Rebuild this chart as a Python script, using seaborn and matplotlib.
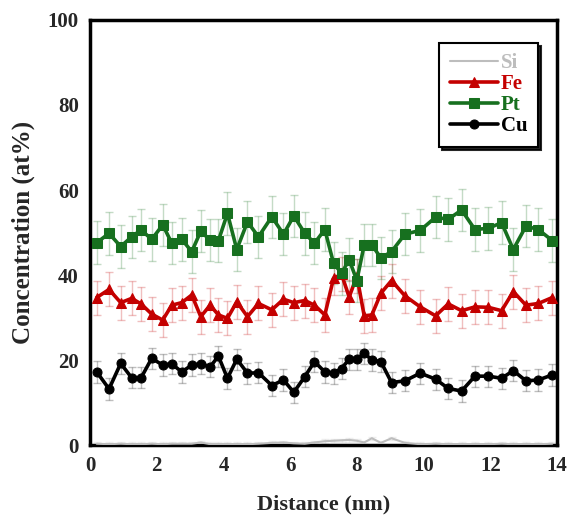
import matplotlib
matplotlib.use("Agg")
import matplotlib.pyplot as plt
import seaborn as sns
import pandas as pd
import numpy as np

# measurement positions (nm), shared by all four elements
distance = [0.2, 0.57, 0.92, 1.25, 1.53, 1.85, 2.18, 2.45, 2.75, 3.05, 3.32,
            3.6, 3.85, 4.12, 4.4, 4.72, 5.05, 5.45, 5.8, 6.11, 6.44, 6.73,
            7.04, 7.3, 7.54, 7.77, 8.0, 8.22, 8.45, 8.72, 9.04, 9.44, 9.9,
            10.36, 10.74, 11.14, 11.54, 11.94, 12.34, 12.69, 13.07, 13.44, 13.86]

si = [0.3, 0.2, 0.3, 0.2, 0.2, 0.3, 0.2, 0.3, 0.3, 0.3, 0.6,
      0.2, 0.2, 0.2, 0.2, 0.2, 0.3, 0.5, 0.6, 0.4, 0.3, 0.6,
      0.9, 1.0, 1.1, 1.2, 1.0, 0.6, 1.6, 0.5, 1.6, 0.5, 0.2,
      0.3, 0.2, 0.2, 0.2, 0.2, 0.3, 0.2, 0.2, 0.2, 0.3]

fe = [34.7, 36.6, 33.5, 34.5, 33.2, 30.8, 29.4, 32.9, 33.5, 35.3, 30.2,
      32.9, 30.6, 29.8, 33.7, 30.2, 33.3, 31.8, 34.3, 33.5, 34.0, 32.9,
      30.6, 39.2, 40.2, 34.8, 39.8, 30.4, 30.6, 35.7, 38.7, 35.1, 32.5,
      30.4, 33.2, 31.6, 32.5, 32.4, 31.6, 36.1, 32.9, 33.3, 34.7]

pt = [47.6, 49.8, 46.7, 49.0, 50.6, 48.4, 51.8, 47.5, 48.4, 45.5, 50.3,
      48.2, 48.1, 54.5, 46.0, 52.5, 49.0, 53.7, 49.6, 53.9, 49.8, 47.5,
      50.7, 42.8, 40.4, 43.6, 38.7, 47.1, 47.1, 44.0, 45.5, 49.6, 50.5,
      53.6, 53.1, 55.3, 50.7, 51.0, 52.3, 46.0, 51.5, 50.7, 48.1]

cu = [17.2, 13.2, 19.2, 15.8, 15.8, 20.4, 18.8, 19.1, 17.2, 18.8, 19.1,
      18.4, 20.9, 15.7, 20.2, 16.9, 17.0, 14.0, 15.3, 12.4, 16.1, 19.6,
      17.2, 16.9, 18.0, 20.2, 20.2, 21.6, 20.0, 19.6, 14.7, 15.1, 16.9,
      15.5, 13.3, 12.7, 16.2, 16.2, 15.7, 17.5, 15.1, 15.3, 16.5]

# approximate error bar half-widths (at%)
errors = {"Si": 0.4, "Fe": 4.0, "Pt": 5.0, "Cu": 2.5}

series = {"Si": si, "Fe": fe, "Pt": pt, "Cu": cu}
colors = {"Si": "#bdbdbd", "Fe": "#c40000", "Pt": "#17701f", "Cu": "#000000"}
markers = {"Si": None, "Fe": "^", "Pt": "s", "Cu": "o"}
widths = {"Si": 1.5, "Fe": 2.6, "Pt": 2.6, "Cu": 2.6}

sns.set_style("white")
plt.rcParams["font.family"] = ["Liberation Serif", "DejaVu Serif"]
plt.rcParams["font.weight"] = "bold"

fig = plt.figure(figsize=(5.68, 5.18), dpi=100)
ax = fig.add_axes([0.1585, 0.1409, 0.8221, 0.8205])

for name, values in series.items():
    df = pd.DataFrame({"Distance": distance, "Concentration": values})
    ax.errorbar(df["Distance"], df["Concentration"], yerr=errors[name],
                fmt="none", ecolor=colors[name], alpha=0.25, capsize=3,
                elinewidth=1, capthick=1, zorder=1)
    kw = dict(marker=markers[name], markersize=6.5,
              markeredgecolor=colors[name]) if markers[name] else {}
    sns.lineplot(data=df, x="Distance", y="Concentration", color=colors[name],
                 lw=widths[name], label=name, ax=ax, zorder=3, **kw)

ax.set_xlim(0, 14)
ax.set_ylim(0, 100)
ax.set_xticks(range(0, 15, 2))
ax.set_yticks(range(0, 101, 20))
ax.tick_params(direction="in", length=4, width=0.8, color="#999999",
               labelsize=15, pad=8)
for lbl in ax.get_xticklabels() + ax.get_yticklabels():
    lbl.set_fontweight("bold")
ax.set_xlabel("Distance (nm)", fontsize=16, fontweight="bold", labelpad=13)
ax.set_ylabel("Concentration (at%)", fontsize=18, fontweight="bold", labelpad=9)

for sp in ax.spines.values():
    sp.set_color("black")
    sp.set_linewidth(2.5)

leg = ax.legend(loc="upper right", bbox_to_anchor=(0.959, 0.946), borderaxespad=0,
                fancybox=False, shadow={"color": "black", "alpha": 0.85},
                frameon=True, handlelength=2.3, labelspacing=0.05,
                handletextpad=0.15, borderpad=0.5,
                prop={"family": "Liberation Serif", "weight": "bold", "size": 15})
leg.get_frame().set_edgecolor("black")
leg.get_frame().set_linewidth(1.5)
for txt in leg.get_texts():
    txt.set_color(colors[txt.get_text()])

fig.savefig("out.png", dpi=100)
